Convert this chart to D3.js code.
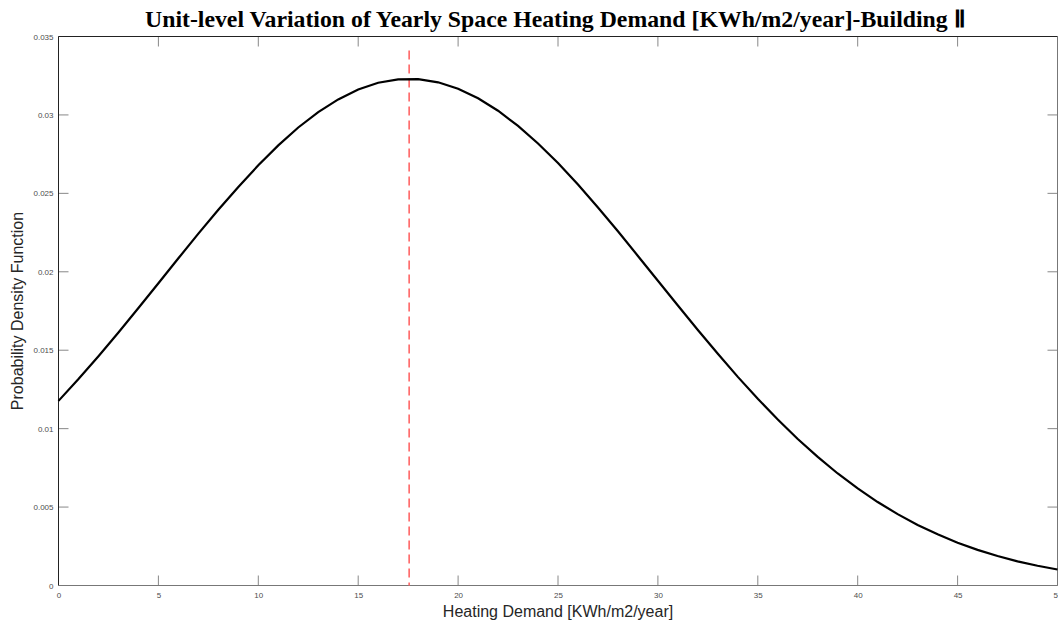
<!DOCTYPE html>
<html>
<head>
  <meta charset="utf-8">
  <style>
    body { margin: 0; background: #fff; }
    svg { display: block; }
  </style>
</head>
<body>
  <div id="chart"></div>
  <script src="https://d3js.org/d3.v7.min.js"></script>
  <script>
    // heating demand samples (KWh/m2/year) and their pdf values
    var demand = d3.range(0, 51);
    var pdf = [
      0.01177, 0.01316, 0.01462, 0.01613, 0.01769, 0.01927, 0.02086, 0.02243, 0.02395, 0.02541,
      0.02679, 0.02806, 0.02920, 0.03018, 0.03099, 0.03162, 0.03205, 0.03227, 0.03228, 0.03208,
      0.03167, 0.03106, 0.03027, 0.02930, 0.02818, 0.02693, 0.02556, 0.02410, 0.02258, 0.02101,
      0.01943, 0.01785, 0.01629, 0.01477, 0.01330, 0.01190, 0.01058, 0.00934, 0.00820, 0.00714,
      0.00619, 0.00532, 0.00455, 0.00386, 0.00326, 0.00273, 0.00227, 0.00188, 0.00154, 0.00126,
      0.00102
    ];
    var meanDemand = 17.55;
    var xTicks = [0, 5, 10, 15, 20, 25, 30, 35, 40, 45, 50];
    var yTicks = [0, 0.005, 0.01, 0.015, 0.02, 0.025, 0.03, 0.035];

    var W = 1058, H = 629;
    var margin = {top: 36.5, right: 0.5, bottom: 43.5, left: 58.5};
    var width = W - margin.left - margin.right;
    var height = H - margin.top - margin.bottom;

    var svg = d3.select("#chart").append("svg")
        .attr("width", W)
        .attr("height", H);

    var g = svg.append("g")
        .attr("transform", "translate(" + margin.left + "," + margin.top + ")");

    var x = d3.scaleLinear().domain([0, 50]).range([0, width]);
    var y = d3.scaleLinear().domain([0, 0.035]).range([height, 0]);

    // axes (inward ticks, box style)
    var tickCol = "#888";
    var xAxis = d3.axisBottom(x).tickValues(xTicks).tickSize(0).tickPadding(7).tickFormat(d3.format("~g"));
    var yAxis = d3.axisLeft(y).tickValues(yTicks).tickSize(0).tickPadding(5).tickFormat(d3.format("~g"));

    var gx = g.append("g").attr("transform", "translate(0," + height + ")").call(xAxis);
    var gy = g.append("g").call(yAxis);
    [gx, gy].forEach(function(a) {
      a.select(".domain").remove();
      a.selectAll("text")
          .attr("fill", "#4d4d4d")
          .style("font-family", "'Liberation Sans', Arial, sans-serif")
          .style("font-size", "8px");
    });

    var tl = 10;
    xTicks.forEach(function(t) {
      g.append("line").attr("x1", x(t)).attr("x2", x(t)).attr("y1", height).attr("y2", height - tl)
          .attr("stroke", tickCol);
      g.append("line").attr("x1", x(t)).attr("x2", x(t)).attr("y1", 0).attr("y2", tl)
          .attr("stroke", tickCol);
    });
    yTicks.forEach(function(t) {
      g.append("line").attr("x1", 0).attr("x2", tl).attr("y1", y(t)).attr("y2", y(t))
          .attr("stroke", tickCol);
      g.append("line").attr("x1", width).attr("x2", width - tl).attr("y1", y(t)).attr("y2", y(t))
          .attr("stroke", tickCol);
    });

    // box: left/top dark, bottom/right gray
    g.append("line").attr("x1", 0).attr("x2", width).attr("y1", 0).attr("y2", 0).attr("stroke", "#222");
    g.append("line").attr("x1", 0).attr("x2", 0).attr("y1", 0).attr("y2", height).attr("stroke", "#222");
    g.append("line").attr("x1", 0).attr("x2", width).attr("y1", height).attr("y2", height).attr("stroke", "#777");
    g.append("line").attr("x1", width).attr("x2", width).attr("y1", 0).attr("y2", height).attr("stroke", "#777");

    // mean line
    g.append("line")
        .attr("x1", x(meanDemand)).attr("x2", x(meanDemand))
        .attr("y1", y(0.0341)).attr("y2", y(0))
        .attr("stroke", "#ff6666")
        .attr("stroke-width", 1.6)
        .attr("stroke-dasharray", "9,5");

    // pdf curve
    var line = d3.line()
        .x(function(d, i) { return x(demand[i]); })
        .y(function(d) { return y(d); });
    g.append("path")
        .datum(pdf)
        .attr("d", line)
        .attr("fill", "none")
        .attr("stroke", "#000")
        .attr("stroke-width", 2.2);

    // labels
    svg.append("text")
        .attr("x", margin.left + width / 2)
        .attr("y", 617)
        .attr("text-anchor", "middle")
        .attr("fill", "#262626")
        .style("font-family", "'Liberation Sans', Arial, sans-serif")
        .style("font-size", "16px")
        .text("Heating Demand [KWh/m2/year]");

    svg.append("text")
        .attr("transform", "translate(23," + (margin.top + height / 2) + ") rotate(-90)")
        .attr("text-anchor", "middle")
        .attr("fill", "#262626")
        .style("font-family", "'Liberation Sans', Arial, sans-serif")
        .style("font-size", "16px")
        .text("Probability Density Function");

    svg.append("text")
        .attr("x", 145)
        .attr("y", 27)
        .attr("textLength", 820)
        .attr("lengthAdjust", "spacingAndGlyphs")
        .attr("fill", "#000")
        .style("font-family", "'Liberation Serif', serif")
        .style("font-weight", "bold")
        .style("font-size", "23px")
        .text("Unit-level Variation of Yearly Space Heating Demand [KWh/m2/year]-Building \u2161");
  </script>
</body>
</html>
